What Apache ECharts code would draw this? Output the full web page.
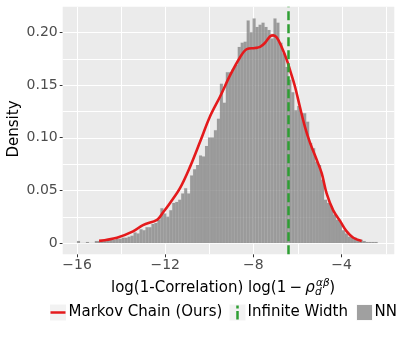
<!DOCTYPE html>
<html><head><meta charset="utf-8">
<script src="https://cdn.jsdelivr.net/npm/echarts@6/dist/echarts.min.js"></script>
<style>html,body{margin:0;padding:0;background:#fff}#c{width:415px;height:339px}</style>
</head><body><div id="c"></div>
<script>
// ---------------- data ----------------
const binStart = -16.0;      // left edge of first histogram bin
const binWidth = 0.135;      // histogram bin width
const nnDensity = [
 0.002,0,0,0.001,0,0,0.002,0.002,0.002,0.002,
 0.003,0.003,0.003,0.004,0.004,0.005,0.005,0.006,0.007,0.010,
 0.009,0.013,0.012,0.015,0.015,0.018,0.019,0.022,0.033,0.028,
 0.025,0.031,0.038,0.039,0.041,0.047,0.052,0.047,0.064,0.070,
 0.074,0.083,0.082,0.092,0.100,0.100,0.107,0.118,0.151,0.133,
 0.162,0.162,0.165,0.169,0.186,0.190,0.191,0.211,0.200,0.213,
 0.205,0.207,0.209,0.205,0.202,0.194,0.213,0.209,0.190,0.180,
 0.167,0.155,0.143,0.126,0.130,0.123,0.123,0.115,0.095,0.090,
 0.077,0.074,0.060,0.041,0.038,0.035,0.027,0.022,0.020,0.012,
 0.009,0.006,0.006,0.005,0.003,0.003,0.002,0.001,0.001,0.001,
 0.001
];
const kdeX = [-15.0,-14.19,-13.46,-13.01,-12.37,-12.10,-11.78,-11.33,-10.88,-10.42,
  -9.97,-9.51,-9.06,-8.61,-8.30,-7.93,-7.70,-7.47,-7.25,-7.10,-6.94,-6.72,-6.49,-6.34,
  -6.11,-5.89,-5.66,-5.43,-5.13,-4.90,-4.68,-4.38,-4.07,-3.77,-3.47,-3.09];
const kdeY = [0.002,0.005,0.011,0.017,0.022,0.029,0.038,0.052,0.072,0.096,
  0.120,0.139,0.159,0.176,0.184,0.185,0.186,0.190,0.196,0.197,0.195,0.186,0.174,0.164,
  0.148,0.129,0.110,0.095,0.079,0.066,0.047,0.031,0.021,0.011,0.005,0.002];
const infiniteWidthX = -6.42;
const seriesNames = ['Markov Chain (Ours)', 'Infinite Width', 'NN'];
const xTickValues = [-16, -12, -8, -4];
const xGridValues = [-16, -14, -12, -10, -8, -6, -4, -2];
const yTickValues = [0, 0.05, 0.10, 0.15, 0.20];
const yTickLabels = ['0', '0.05', '0.10', '0.15', '0.20'];
const yGridValues = [0, 0.025, 0.05, 0.075, 0.10, 0.125, 0.15, 0.175, 0.20];
const xTitleMain = 'log(1-Correlation) log(1';
const xTitleMinus = '\u2212';
const xTitleRho = '\u03c1';
const xTitleSup = '\u03b1\u03b2';
const xTitleSub = 'd';
const xTitleEnd = ')';
const yTitle = 'Density';

// ---------------- chart ----------------
const FONT = "'DejaVu Sans', sans-serif";
const X_MIN = -16.65, X_MAX = -1.61, Y_MIN = -0.0107, Y_MAX = 0.2242;
const RED = '#E41A1C', GREEN = '#2E9E33', BARC = '#A0A0A0';

const bins = nnDensity.map((v, i) => [binStart + i * binWidth, binStart + (i + 1) * binWidth, v]);
const kde = kdeX.map((x, i) => [x, kdeY[i]]);

const chart = echarts.init(document.getElementById('c'), null, {renderer: 'canvas'});

function gridRender(params, api) {
  const cs = params.coordSys;
  const dim = api.value(0), v = api.value(1);
  let shape;
  if (dim === 0) {
    const p = api.coord([v, Y_MIN]);
    shape = {x1: Math.round(p[0]) + 0.5, y1: cs.y, x2: Math.round(p[0]) + 0.5, y2: cs.y + cs.height};
  } else {
    const p = api.coord([X_MIN, v]);
    shape = {x1: cs.x, y1: Math.round(p[1]) + 0.5, x2: cs.x + cs.width, y2: Math.round(p[1]) + 0.5};
  }
  return {type: 'line', shape, style: {stroke: '#FFFFFF', lineWidth: 1}};
}
const gridData = xGridValues.map(v => [0, v]).concat(yGridValues.map(v => [1, v]));

const ctx = document.createElement('canvas').getContext('2d');
function tw(t, f) { ctx.font = f; return ctx.measureText(t).width; }
const mainFont = '15px ' + FONT;
const itFont = 'italic 15px ' + FONT;
const smallFont = 'italic 10.5px ' + FONT;
const tx0 = 111, ty = 288.5;
const xMinus = tx0 + tw(xTitleMain, mainFont) + 3.2;
const xRho = xMinus + tw(xTitleMinus, mainFont) + 3.2;
const xScript = xRho + tw(xTitleRho, itFont) + 0.3;
const xEnd = xScript + Math.max(tw(xTitleSup, smallFont), tw(xTitleSub, smallFont)) + 0.5;

function txt(text, x, y, font, extra) {
  return Object.assign({type: 'text', x, y, silent: true,
    style: {text, font, fill: '#000', align: 'left', verticalAlign: 'middle'}}, extra || {});
}

const graphics = [
  {type: 'text', x: 14, y: 129, rotation: Math.PI / 2, silent: true,
    style: {text: yTitle, font: mainFont, fill: '#000', align: 'center', verticalAlign: 'middle'}},
  txt(xTitleMain, tx0, ty, mainFont),
  txt(xTitleMinus, xMinus, ty, mainFont),
  txt(xTitleRho, xRho, ty, itFont),
  txt(xTitleSup, xScript + 1, ty - 5.5, smallFont),
  txt(xTitleSub, xScript, ty + 4, smallFont),
  txt(xTitleEnd, xEnd, ty, mainFont),
  // legend
  {type: 'rect', shape: {x: 50, y: 304.5, width: 16, height: 16}, style: {fill: '#F2F2F2'}, silent: true},
  {type: 'line', shape: {x1: 50.5, y1: 312.5, x2: 65.5, y2: 312.5}, style: {stroke: RED, lineWidth: 2.5}, silent: true},
  txt(seriesNames[0], 68.5, 312.5, mainFont),
  {type: 'rect', shape: {x: 229.5, y: 304.5, width: 16, height: 16}, style: {fill: '#F2F2F2'}, silent: true},
  {type: 'line', shape: {x1: 237.5, y1: 305.5, x2: 237.5, y2: 319.5}, style: {stroke: GREEN, lineWidth: 2.5, lineDash: [3, 2.5, 9, 2]}, silent: true},
  txt(seriesNames[1], 247.5, 312.5, mainFont),
  {type: 'rect', shape: {x: 356.5, y: 304.5, width: 16, height: 16}, style: {fill: '#F2F2F2'}, silent: true},
  {type: 'rect', shape: {x: 357, y: 305, width: 15, height: 15}, style: {fill: BARC}, silent: true},
  txt(seriesNames[2], 374.5, 312.5, mainFont)
];

const option = {
  animation: false,
  backgroundColor: '#FFFFFF',
  grid: {left: 62.7, right: 20.7, top: 6.7, bottom: 84.7, show: true, backgroundColor: '#EBEBEB', borderWidth: 0,
    containLabel: false, outerBoundsMode: 'none'},
  xAxis: {
    type: 'value', min: X_MIN, max: X_MAX,
    splitLine: {show: false},
    axisLine: {show: false, onZero: false},
    axisTick: {show: true, customValues: xTickValues, length: 3, lineStyle: {color: '#333333', width: 1}},
    axisLabel: {customValues: xTickValues, margin: 4, fontSize: 14, fontFamily: FONT, color: '#4D4D4D',
      formatter: v => String(v).replace('-', '\u2212')}
  },
  yAxis: {
    type: 'value', min: Y_MIN, max: Y_MAX,
    splitLine: {show: false},
    axisLine: {show: false, onZero: false},
    axisTick: {show: true, customValues: yTickValues, length: 3, lineStyle: {color: '#333333', width: 1}},
    axisLabel: {customValues: yTickValues, margin: 5, fontSize: 14, fontFamily: FONT, color: '#4D4D4D',
      formatter: v => { const i = yTickValues.findIndex(t => Math.abs(t - v) < 1e-9); return i >= 0 ? yTickLabels[i] : ''; }}
  },
  series: [
    {type: 'custom', name: 'grid', data: gridData, renderItem: gridRender, z: 1, silent: true, clip: true},
    {type: 'custom', name: seriesNames[2], data: bins, z: 2, silent: true, clip: true,
      renderItem: (params, api) => {
        const p0 = api.coord([api.value(0), api.value(2)]);
        const p1 = api.coord([api.value(1), 0]);
        return {type: 'rect', shape: {x: p0[0], y: p0[1], width: p1[0] - p0[0], height: p1[1] - p0[1]},
          style: {fill: 'rgba(128,128,128,0.75)', stroke: 'rgba(160,160,160,0.3)', lineWidth: 0.3}};
      }},
    {type: 'line', name: seriesNames[0], data: kde, smooth: 0.35, showSymbol: false, z: 4,
      lineStyle: {color: RED, width: 2.6}, silent: true},
    {type: 'line', name: seriesNames[1], data: [], z: 5, silent: true,
      markLine: {silent: true, symbol: ['none', 'none'], label: {show: false},
        lineStyle: {color: GREEN, width: 2.5, type: [9, 4]},
        data: [{xAxis: infiniteWidthX}]}}
  ],
  graphic: graphics
};
chart.setOption(option);
</script>
</body></html>
